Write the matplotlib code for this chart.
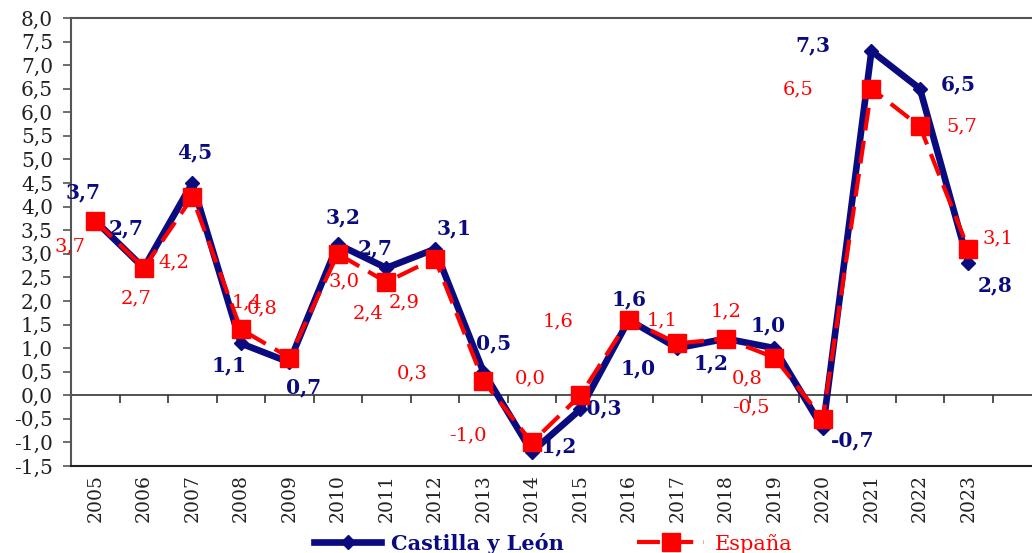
import numpy as np
import matplotlib.pyplot as plt

# data
years = [str(y) for y in range(2005, 2024)]
cyl = [3.7, 2.7, 4.5, 1.1, 0.7, 3.2, 2.7, 3.1, 0.5, -1.2, -0.3, 1.6, 1.0, 1.2, 1.0, -0.7, 7.3, 6.5, 2.8]
esp = [3.7, 2.7, 4.2, 1.4, 0.8, 3.0, 2.4, 2.9, 0.3, -1.0, 0.0, 1.6, 1.1, 1.2, 0.8, -0.5, 6.5, 5.7, 3.1]

# label offsets in pixels (dx, dy), dy positive = down in the picture
cyl_off = [(-12, -28), (-18, -40), (2, -31), (-12, 22), (14, 25), (5, -27), (-11, -20),
           (19, -21), (10, -28), (24, -5), (20, -1), (0, -20), (-39, 20), (-15, 25),
           (-6, -23), (30, 12), (-59, -6), (38, -4), (27, 22)]
esp_off = [(-25, 26), (-8, 30), (-18, 65), (6, -27), (-27, -49), (6, 28), (-18, 31),
           (-31, 44), (-71, -8), (-64, -7), (-50, -17), (-71, 2), (-15, -23), (0, -27),
           (-27, 21), (-72, -11), (-73, 1), (42, 0), (30, -11)]

navy = '#0b0b80'
red = '#ff0000'
grey = '#555555'
plt.rcParams['font.family'] = ['DejaVu Serif']


def fmt(v):
    return f"{v:.1f}".replace('.', ',')


fig = plt.figure(figsize=(10.32, 5.53), dpi=100)
ax = fig.add_axes([71 / 1032, 1 - 466 / 553, 1 - 71 / 1032, (466 - 18) / 553])

x = np.arange(len(years))
ax.plot(x, cyl, color=navy, lw=4.8, marker='D', ms=7, zorder=3, label='Castilla y León')
ax.plot(x, esp, color=red, lw=3, dashes=(5.5, 2.5), marker='s', ms=12.5, zorder=5, label='España')

for i, v in enumerate(cyl):
    dx, dy = cyl_off[i]
    ax.annotate(fmt(v), (x[i], v), xytext=(dx, -dy), textcoords='offset pixels',
                ha='center', va='center', color=navy, fontsize=14.5, fontweight='bold', zorder=4)
for i, v in enumerate(esp):
    dx, dy = esp_off[i]
    ax.annotate(fmt(v), (x[i], v), xytext=(dx, -dy), textcoords='offset pixels',
                ha='center', va='center', color=red, fontsize=14, zorder=6)

ax.set_ylim(-1.5, 8.0)
ax.set_xlim(-0.5, 19.31)
yt = np.arange(-1.5, 8.01, 0.5)
ax.set_yticks(yt)
ax.set_yticklabels([fmt(v) for v in yt], fontsize=14.5, color='#222222')
ax.tick_params(axis='y', direction='out', length=6, width=1.2, color=grey, pad=7)

ax.set_xticks(x)
ax.set_xticklabels(years, rotation=90, fontsize=13.5, color='#222222')
ax.tick_params(axis='x', length=0, pad=6)

ax.spines['right'].set_visible(False)
for s in ['left', 'top']:
    ax.spines[s].set_color(grey)
    ax.spines[s].set_linewidth(1.5)
ax.spines['bottom'].set_color('#222222')
ax.spines['bottom'].set_linewidth(1.5)

# zero line with category boundary ticks
sec = ax.secondary_xaxis(1.5 / 9.5)
sec.set_xticks(np.arange(-0.5, 19, 1))
sec.tick_params(direction='out', length=6, width=1.2, color='#333333', labelbottom=False, labeltop=False)
sec.spines['bottom'].set_color('#333333')
sec.spines['bottom'].set_linewidth(1.2)

leg = fig.legend(loc='center', bbox_to_anchor=(0.536, 0.018), ncol=2, frameon=False,
                 columnspacing=3.5, handlelength=3.2, handletextpad=0.5, fontsize=15)
t1, t2 = leg.get_texts()
t1.set_color(navy)
t1.set_fontweight('bold')
t2.set_color(red)

fig.savefig('out.png', dpi=100)
